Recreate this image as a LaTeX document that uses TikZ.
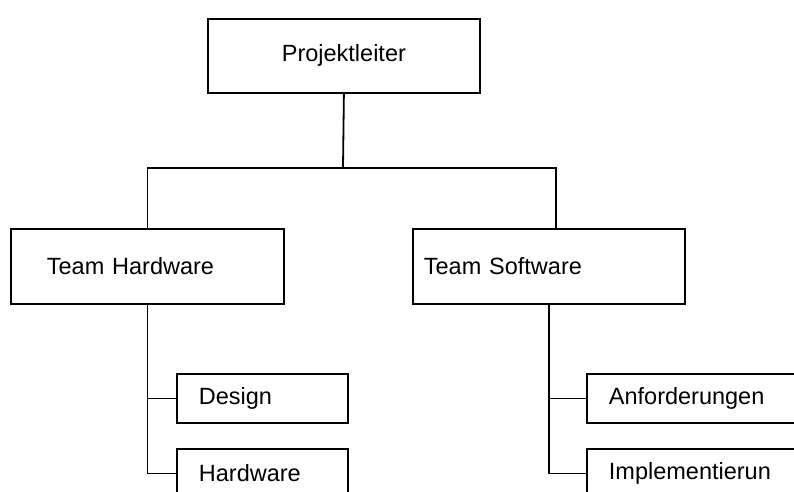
\documentclass[tikz,border=0pt]{standalone}
\usepackage{fontspec}
\setmainfont{Liberation Sans}
\usetikzlibrary{positioning}

\tikzset{
  orgbox/.style={draw, line width=1.8pt, anchor=north west, align=left},
  toplevel/.style={orgbox, minimum height=75pt},
  sublevel/.style={orgbox, minimum height=49pt, inner xsep=22pt},
  link/.style={draw, line width=1.8pt}
}

\begin{document}
\begin{tikzpicture}[x=1pt, y=-1pt, font=\fontsize{23.5}{28}\selectfont]
\clip (0,0) rectangle (794,491);
\node[orgbox, minimum width=272pt, minimum height=74pt, align=center] (lead) at (207,18) {Projektleiter};

\node[toplevel, text width=201pt, inner xsep=36pt] (hw) at (10,228) {Team Hardware};
\node[toplevel, text width=250pt, inner xsep=11pt] (sw) at (412,228) {Team Software};

\node[sublevel, text width=127pt] (design) at (176,373) {Design};
\node[sublevel, text width=127pt] (hwpart) at (176,448) {Hardware};
\node[sublevel, text width=200pt] (req) at (586,373) {Anforderungen};
\node[sublevel, text width=200pt] (impl) at (586,448) {Implementierun};

\coordinate (fork) at (343,168);
\path[link] (lead.south) -- (fork);
\path[link] (hw.north) |- (fork) -| ([xshift=7pt]sw.north);
\foreach \team/\part in {hw/design, hw/hwpart, sw/req, sw/impl} {
 \path[link] (\team.south) |- (\part.west);
}
\end{tikzpicture}
\end{document}
